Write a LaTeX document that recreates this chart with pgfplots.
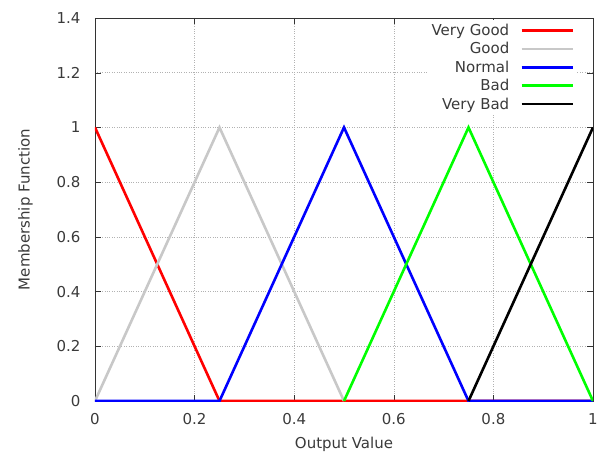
\documentclass[border=0pt]{standalone}
\usepackage{pgfplots}
\pgfplotsset{compat=1.18}
\usepackage{fontspec}
\setmainfont{DejaVu Sans}
\definecolor{txt}{HTML}{3A3A3A}
\definecolor{goodgray}{HTML}{C8C8C8}
\begin{document}
\begin{tikzpicture}[x=1pt,y=1pt]
\begin{axis}[
  scale only axis,
  width=498pt, height=383pt,
  xmin=0, xmax=1, ymin=0, ymax=1.4,
  xtick={0,0.2,...,1.0}, ytick={0,0.2,...,1.4},
  xticklabels={0,0.2,0.4,0.6,0.8,1},
  yticklabels={0,0.2,0.4,0.6,0.8,1,1.2,1.4},
  tick align=inside,
  major tick length=6pt,
  grid=major,
  major grid style={dotted, gray!60, line width=0.6pt},
  axis line style={black!80, line width=0.7pt},
  tick style={black!80},
  ticklabel style={font=\fontsize{15}{17}\selectfont, text=txt},
  xticklabel style={yshift=-9pt},
  yticklabel style={xshift=-11pt},
  label style={font=\fontsize{15}{17}\selectfont, text=txt},
  xlabel={Output Value},
  ylabel={Membership Function},
  xlabel style={yshift=-5pt},
  ylabel style={yshift=17pt},
  /pgf/number format/assume math mode=true,
  legend cell align=right,
  legend plot pos=right,
  legend style={at={(rel axis cs:0.966,0.995)}, anchor=north east, draw=none, fill=white,
    font=\fontsize{15}{18}\selectfont, text=txt, row sep=1.5pt, inner sep=2pt},
  legend image code/.code={\path (0pt,0pt); \draw[#1] (9pt,0pt) -- (60pt,0pt);},
]
\addplot[red, line width=2.6pt] coordinates {(0,1) (0.25,0) (1,0)};
\addlegendentry{Very Good}
\addplot[goodgray, line width=2.6pt] coordinates {(0,0) (0.25,1) (0.5,0)};
\addlegendentry{Good}
\addplot[blue, line width=2.6pt] coordinates {(0,0) (0.25,0) (0.5,1) (0.75,0) (1,0)};
\addlegendentry{Normal}
\addplot[green, line width=2.6pt] coordinates {(0.5,0) (0.75,1) (1,0)};
\addlegendentry{Bad}
\addplot[black, line width=2.6pt] coordinates {(0.75,0) (1,1)};
\addlegendentry{Very Bad}
\end{axis}
\pgfresetboundingbox
\path (-95pt,-52pt) rectangle (508pt,401pt);
\end{tikzpicture}
\end{document}
